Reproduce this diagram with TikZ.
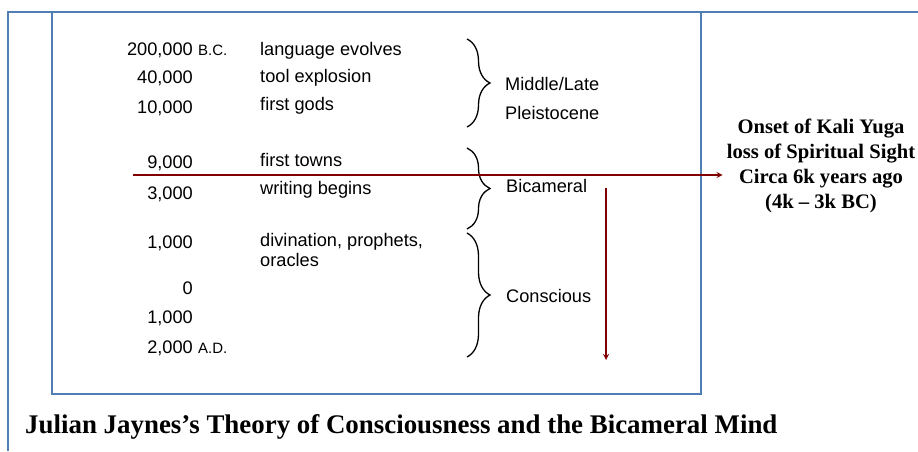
\documentclass[tikz,border=0pt]{standalone}
\usepackage{fontspec}
\setmainfont{Liberation Serif}
\setsansfont{Liberation Sans}
\usetikzlibrary{arrows,positioning,decorations.pathreplacing}
\definecolor{jjblue}{RGB}{79,125,180}
\definecolor{jjred}{RGB}{128,0,0}
\tikzstyle{arrow} = [line width=1.7pt,->,>=stealth,color=jjred]
\tikzstyle{frame} = [jjblue,line width=1.3pt]
\tikzstyle{era} = [decorate,decoration={brace,amplitude=23pt},line width=1.3pt]
\tikzstyle{yearlbl} = [anchor=base east,inner sep=0pt,font=\sffamily\fontsize{18.2}{21}\selectfont]
\tikzstyle{eventlbl} = [anchor=base west,inner sep=0pt,font=\sffamily\fontsize{18.2}{21}\selectfont]
\tikzstyle{eralbl} = [anchor=base west,inner sep=0pt,font=\sffamily\fontsize{18.2}{21}\selectfont]
\tikzstyle{smallcap} = [anchor=base west,inner sep=0pt,font=\sffamily\fontsize{15}{17}\selectfont]

\begin{document}
\begin{tikzpicture}[x=1pt,y=-1pt]
\useasboundingbox (0,0) rectangle (918,451);
% Frames
\draw[frame] (8,451) -- (8,12) -- (918,12);
\draw[frame] (52,12) rectangle (701,394);

% Dates
\node[yearlbl] (y200k) at (193,55) {200,000};
\node[smallcap, right=5pt of y200k.base east, anchor=base west] (bc) {B.C.};
\node[yearlbl] (y40k) at (193,83) {40,000};
\node[yearlbl] (y10k) at (193,113) {10,000};
\node[yearlbl] (y9k) at (193,168) {9,000};
\node[yearlbl] (y3k) at (193,199) {3,000};
\node[yearlbl] (y1kbc) at (193,248) {1,000};
\node[yearlbl] (yzero) at (193,294) {0};
\node[yearlbl] (y1kad) at (193,323) {1,000};
\node[yearlbl] (y2k) at (193,353) {2,000};
\node[smallcap, right=5pt of y2k.base east, anchor=base west] (ad) {A.D.};

% Events
\node[eventlbl] (language) at (260,55) {language evolves};
\node[eventlbl] (tools) at (260,82) {tool explosion};
\node[eventlbl] (gods) at (260,110) {first gods};
\node[eventlbl] (towns) at (260,166) {first towns};
\node[eventlbl] (writing) at (260,194) {writing begins};
\node[eventlbl] (divination) at (260,246) {divination, prophets,};
\node[eventlbl] (oracles) at (260,266) {oracles};

% Braces
\draw[era] (467,39) -- (467,127);
\draw[era] (467,148) -- (467,229);
\draw[era] (467,233) -- (467,357);
\node[eralbl] (middle) at (505,90) {Middle/Late};
\node[eralbl] (pleisto) at (505,119) {Pleistocene};
\node[eralbl] (bicam) at (506,192) {Bicameral};
\node[eralbl] (consc) at (506,302) {Conscious};

% Kali Yuga
\node[align=center, inner sep=4pt, font=\bfseries\fontsize{20.6}{25}\selectfont] (kali) at (821,166)
  {Onset of Kali Yuga\\ loss of Spiritual Sight\\ Circa 6k years ago\\ (4k -- 3k BC)};
\coordinate (hstart) at (133,175);
\draw[arrow] (hstart) -- (hstart -| kali.west);
\coordinate (vtop) at (606,188);
\coordinate (vbot) at (606,360);
\draw[arrow] (vtop) -- (vbot);

% Title
\node[anchor=base west, inner sep=0pt, font=\bfseries\fontsize{26.9}{32}\selectfont] (title) at (25,433)
  {Julian Jaynes’s Theory of Consciousness and the Bicameral Mind};
\end{tikzpicture}
\end{document}
